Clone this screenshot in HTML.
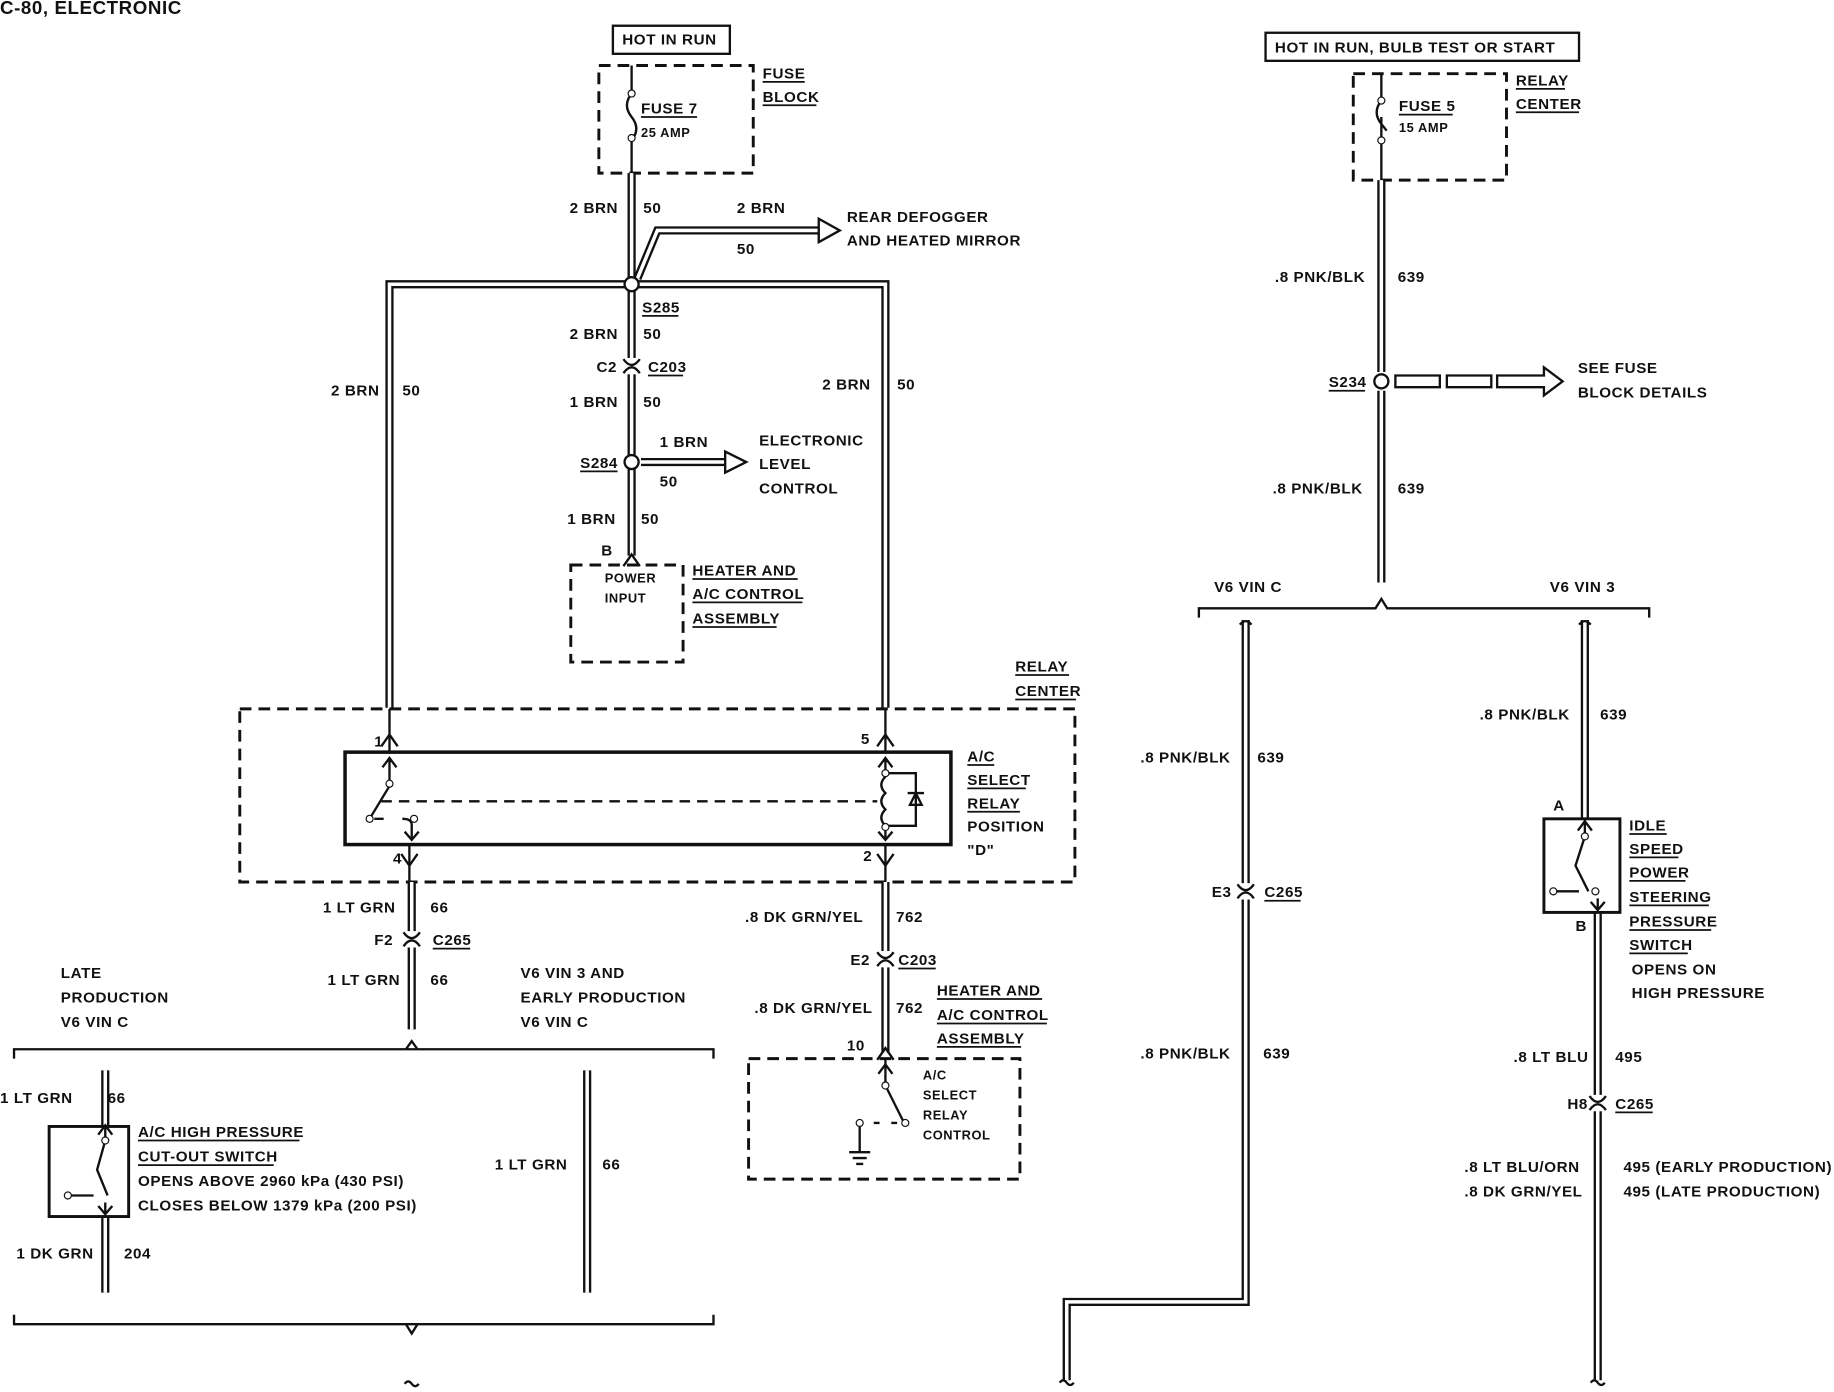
<!DOCTYPE html>
<html><head><meta charset="utf-8"><style>
html,body{margin:0;padding:0;background:#fff;}
svg{display:block;}
text{font-family:"Liberation Sans",sans-serif;font-size:13px;font-weight:bold;fill:#111;letter-spacing:0.5px;}
.w{fill:none;stroke:#111;stroke-width:7;}
.wi{fill:none;stroke:#fff;stroke-width:3;}
.l{fill:none;stroke:#111;stroke-width:2;}
.d{fill:none;stroke:#111;stroke-width:2.5;stroke-dasharray:10 6;}
.u{stroke:#111;stroke-width:1.5;}
</style></head><body>
<svg width="1834" height="1392" viewBox="0 0 1568 1190" preserveAspectRatio="none" xmlns="http://www.w3.org/2000/svg">
<defs>
<g id="cn"><path class="l" d="M-7,6 Q0,-4 7,6 M-7,-6 Q0,4 7,-6"/></g>
</defs>
<text x="0" y="12" style="font-size:16px">C-80, ELECTRONIC</text>
<!-- LEFT TOP -->
<rect x="524" y="22" width="100" height="24" class="l"/>
<text x="532" y="38">HOT IN RUN</text>
<rect x="512" y="56" width="132" height="92" class="d" fill="#f3f3f3"/>
<path class="l" d="M540,56 V80 M540,80 q-8,10 0,20 q8,10 0,20 V148"/>
<circle cx="540" cy="80" r="3" fill="#fff" stroke="#111"/><circle cx="540" cy="118" r="3" fill="#fff" stroke="#111"/>
<text x="548" y="97">FUSE 7</text><line class="u" x1="548" y1="100" x2="596" y2="100"/>
<text x="548" y="117" style="font-size:11px">25 AMP</text>
<text x="652" y="67">FUSE</text><line class="u" x1="652" y1="70" x2="688" y2="70"/>
<text x="652" y="87">BLOCK</text><line class="u" x1="652" y1="90" x2="698" y2="90"/>

<g>
<path class="w" d="M540,148 V238 M333,605 V243 H757 V605 M540,248 V475"/>
<path class="w" d="M545,238 L562,197 H712"/>
<path class="wi" d="M540,148 V238 M333,605 V243 H757 V605 M540,248 V475"/>
<path class="wi" d="M545,238 L562,197 H712"/>
</g>
<path d="M700,187 L718,197 L700,207 Z" fill="#fff" stroke="#111" stroke-width="2"/>
<circle cx="540" cy="243" r="6" fill="#fff" stroke="#111" stroke-width="2"/>
<text x="487" y="182">2 BRN</text><text x="550" y="182">50</text>
<text x="630" y="182">2 BRN</text><text x="630" y="217">50</text>
<text x="724" y="190">REAR DEFOGGER</text><text x="724" y="210">AND HEATED MIRROR</text>
<text x="283" y="338">2 BRN</text><text x="344" y="338">50</text>
<text x="703" y="333">2 BRN</text><text x="767" y="333">50</text>
<text x="549" y="267">S285</text><line class="u" x1="549" y1="270" x2="580" y2="270"/>
<text x="487" y="290">2 BRN</text><text x="550" y="290">50</text>
<rect x="532" y="306" width="16" height="14" fill="#fff"/><use href="#cn" x="540" y="313"/>
<text x="510" y="318">C2</text><text x="554" y="318">C203</text><line class="u" x1="554" y1="321" x2="584" y2="321"/>
<text x="487" y="348">1 BRN</text><text x="550" y="348">50</text>
<path class="w" d="M548,395 H628"/><path class="wi" d="M548,395 H628"/>
<path d="M620,386 L638,395 L620,404 Z" fill="#fff" stroke="#111" stroke-width="2"/>
<circle cx="540" cy="395" r="6" fill="#fff" stroke="#111" stroke-width="2"/>
<text x="496" y="400">S284</text><line class="u" x1="496" y1="403" x2="528" y2="403"/>
<text x="564" y="382">1 BRN</text><text x="564" y="416">50</text>
<text x="649" y="381">ELECTRONIC</text><text x="649" y="401">LEVEL</text><text x="649" y="422">CONTROL</text>
<text x="485" y="448">1 BRN</text><text x="548" y="448">50</text>
<text x="514" y="475">B</text>
<path class="l" d="M533,484 L540,474 L547,484"/>
<rect x="488" y="483" width="96" height="83" class="d"/>
<text x="517" y="498" style="font-size:11px">POWER</text><text x="517" y="515" style="font-size:11px">INPUT</text>
<text x="592" y="492">HEATER AND</text><line class="u" x1="592" y1="495" x2="682" y2="495"/>
<text x="592" y="512">A/C CONTROL</text><line class="u" x1="592" y1="515" x2="686" y2="515"/>
<text x="592" y="533">ASSEMBLY</text><line class="u" x1="592" y1="536" x2="664" y2="536"/>

<!-- Relay center -->
<rect x="205" y="606" width="714" height="148" class="d"/>
<text x="868" y="574">RELAY</text><line class="u" x1="868" y1="577" x2="914" y2="577"/>
<text x="868" y="595">CENTER</text><line class="u" x1="868" y1="598" x2="920" y2="598"/>
<rect x="295" y="643" width="518" height="79" fill="none" stroke="#111" stroke-width="3"/>
<path class="l" d="M333,606 V643 M326,638 L333,628 L340,638 M757,606 V643 M750,638 L757,628 L764,638"/>
<text x="320" y="638">1</text><text x="736" y="636">5</text>
<path class="l" d="M350,722 V760 M343,730 L350,740 L357,730 M757,722 V760 M750,730 L757,740 L764,730"/>
<text x="336" y="738">4</text><text x="738" y="736">2</text>
<path class="l" d="M333,648 V668 M327,656 L333,648 L339,656 M333,672 L316,700 M320,700 l8,0 M344,700 Q352,700 352,705 M352,705 V718 M346,711 L352,718 L358,711"/>
<circle cx="333" cy="670" r="3" fill="#fff" stroke="#111"/><circle cx="316" cy="700" r="3" fill="#fff" stroke="#111"/><circle cx="354" cy="700" r="3" fill="#fff" stroke="#111"/>
<path d="M326,685 H750" class="l" stroke-dasharray="9 6"/>
<path class="l" d="M757,648 V660 M751,656 L757,648 L763,656 M757,664 q-7,7 0,14 q-7,7 0,14 q-7,7 0,14 M757,710 V718 M751,711 L757,718 L763,711 M760,661 H783 V706 H760 M778,688 l5,-10 l5,10 z M776,678 h14"/>
<circle cx="757" cy="661" r="3" fill="#fff" stroke="#111"/><circle cx="757" cy="707" r="3" fill="#fff" stroke="#111"/>
<text x="827" y="651">A/C</text><line class="u" x1="827" y1="654" x2="850" y2="654"/>
<text x="827" y="671">SELECT</text><line class="u" x1="827" y1="674" x2="877" y2="674"/>
<text x="827" y="691">RELAY</text><line class="u" x1="827" y1="694" x2="872" y2="694"/>
<text x="827" y="711">POSITION</text><text x="827" y="731">"D"</text>

<!-- below relay -->
<path class="w" d="M352,754 V880 M757,754 V900"/><path class="wi" d="M352,754 V880 M757,754 V900"/>
<rect x="343" y="796" width="18" height="14" fill="#fff"/><use href="#cn" x="352" y="803"/>
<rect x="748" y="813" width="18" height="14" fill="#fff"/><use href="#cn" x="757" y="820"/>
<text x="276" y="780">1 LT GRN</text><text x="368" y="780">66</text>
<text x="320" y="808">F2</text><text x="370" y="808">C265</text><line class="u" x1="370" y1="811" x2="402" y2="811"/>
<text x="280" y="842">1 LT GRN</text><text x="368" y="842">66</text>
<text x="637" y="788">.8 DK GRN/YEL</text><text x="766" y="788">762</text>
<text x="727" y="825">E2</text><text x="768" y="825">C203</text><line class="u" x1="768" y1="828" x2="800" y2="828"/>
<text x="645" y="866">.8 DK GRN/YEL</text><text x="766" y="866">762</text>
<text x="801" y="851">HEATER AND</text><line class="u" x1="801" y1="854" x2="891" y2="854"/>
<text x="801" y="872">A/C CONTROL</text><line class="u" x1="801" y1="875" x2="895" y2="875"/>
<text x="801" y="892">ASSEMBLY</text><line class="u" x1="801" y1="895" x2="873" y2="895"/>
<text x="724" y="898">10</text>
<path class="l" d="M750,906 L757,896 L764,906"/>
<rect x="640" y="905" width="232" height="103" class="d"/>
<path class="l" d="M757,906 V925 M751,918 L757,910 L763,918 M757,928 L772,958 M767,960 h-5 M752,960 h-5 M735,960 V985 M726,985 h18 M729,990 h12 M732,995 h6"/>
<circle cx="757" cy="928" r="3" fill="#fff" stroke="#111"/><circle cx="774" cy="960" r="3" fill="#fff" stroke="#111"/><circle cx="735" cy="960" r="3" fill="#fff" stroke="#111"/>
<text x="789" y="923" style="font-size:11px">A/C</text><text x="789" y="940" style="font-size:11px">SELECT</text><text x="789" y="957" style="font-size:11px">RELAY</text><text x="789" y="974" style="font-size:11px">CONTROL</text>

<text x="52" y="836">LATE</text><text x="52" y="857">PRODUCTION</text><text x="52" y="878">V6 VIN C</text>
<text x="445" y="836">V6 VIN 3 AND</text><text x="445" y="857">EARLY PRODUCTION</text><text x="445" y="878">V6 VIN C</text>
<path class="l" d="M12,905 V897 H610 V905 M347,897 L352,890 L357,897 M12,1124 V1132 H610 V1124 M347,1132 L352,1140 L357,1132 M346,1183 q3,-4 6,0 q3,4 6,0"/>
<path class="w" d="M90,915 V963 M90,1040 V1105 M502,915 V1105"/><path class="wi" d="M90,915 V963 M90,1040 V1105 M502,915 V1105"/>
<rect x="42" y="963" width="68" height="77" fill="none" stroke="#111" stroke-width="2.5"/>
<path class="l" d="M90,963 V972 M84,970 L90,962 L96,970 M90,975 L83,1000 L92,1022 M60,1022 h20 M90,1028 V1038 M84,1031 L90,1038 L96,1031"/>
<circle cx="90" cy="975" r="3" fill="#fff" stroke="#111"/><circle cx="58" cy="1022" r="3" fill="#fff" stroke="#111"/>
<text x="0" y="943">1 LT GRN</text><text x="92" y="943">66</text>
<text x="118" y="972">A/C HIGH PRESSURE</text><line class="u" x1="118" y1="975" x2="256" y2="975"/>
<text x="118" y="993">CUT-OUT SWITCH</text><line class="u" x1="118" y1="996" x2="234" y2="996"/>
<text x="118" y="1014">OPENS ABOVE 2960 kPa (430 PSI)</text>
<text x="118" y="1035">CLOSES BELOW 1379 kPa (200 PSI)</text>
<text x="14" y="1076">1 DK GRN</text><text x="106" y="1076">204</text>
<text x="423" y="1000">1 LT GRN</text><text x="515" y="1000">66</text>

<!-- RIGHT -->
<rect x="1082" y="28" width="268" height="24" class="l"/>
<text x="1090" y="45">HOT IN RUN, BULB TEST OR START</text>
<rect x="1157" y="63" width="131" height="91" class="d"/>
<path class="l" d="M1181,63 V86 q-8,10 0,20 q8,10 0,0 M1181,100 V154"/>
<circle cx="1181" cy="86" r="3" fill="#fff" stroke="#111"/><circle cx="1181" cy="120" r="3" fill="#fff" stroke="#111"/>
<text x="1196" y="95">FUSE 5</text><line class="u" x1="1196" y1="98" x2="1242" y2="98"/>
<text x="1196" y="113" style="font-size:11px">15 AMP</text>
<text x="1296" y="73">RELAY</text><line class="u" x1="1296" y1="76" x2="1338" y2="76"/>
<text x="1296" y="93">CENTER</text><line class="u" x1="1296" y1="96" x2="1350" y2="96"/>
<path class="w" d="M1181,154 V318 M1181,334 V498 M1065,530 V1113 H912 V1180 M1355,530 V700 M1366,780 V1180"/>
<path class="wi" d="M1181,154 V318 M1181,334 V498 M1065,530 V1113 H912 V1180 M1355,530 V700 M1366,780 V1180"/>
<circle cx="1181" cy="326" r="6" fill="#fff" stroke="#111" stroke-width="2"/>
<path d="M1193,321 h38 v10 h-38 z M1237,321 h38 v10 h-38 z M1280,321 h40 v-7 l16,12 l-16,12 v-7 h-40 z" fill="#fff" stroke="#111" stroke-width="2"/>
<text x="1090" y="241">.8 PNK/BLK</text><text x="1195" y="241">639</text>
<text x="1136" y="331">S234</text><line class="u" x1="1136" y1="334" x2="1167" y2="334"/>
<text x="1349" y="319">SEE FUSE</text><text x="1349" y="340">BLOCK DETAILS</text>
<text x="1088" y="422">.8 PNK/BLK</text><text x="1195" y="422">639</text>
<path class="l" d="M1025,528 V520 H1176 L1181,512 L1186,520 H1410 V528"/>
<text x="1038" y="506">V6 VIN C</text><text x="1325" y="506">V6 VIN 3</text>
<text x="975" y="652">.8 PNK/BLK</text><text x="1075" y="652">639</text>
<rect x="1056" y="755" width="18" height="14" fill="#fff"/><use href="#cn" x="1065" y="762"/>
<text x="1036" y="767">E3</text><text x="1081" y="767">C265</text><line class="u" x1="1081" y1="770" x2="1112" y2="770"/>
<text x="975" y="905">.8 PNK/BLK</text><text x="1080" y="905">639</text>
<text x="1265" y="615">.8 PNK/BLK</text><text x="1368" y="615">639</text>
<text x="1328" y="693">A</text>
<rect x="1320" y="700" width="65" height="80" fill="none" stroke="#111" stroke-width="2.5"/>
<path class="l" d="M1355,700 V712 M1349,710 L1355,702 L1361,710 M1355,715 L1347,740 L1358,762 M1330,762 h20 M1366,768 V778 M1360,771 L1366,778 L1372,771"/>
<circle cx="1355" cy="715" r="3" fill="#fff" stroke="#111"/><circle cx="1328" cy="762" r="3" fill="#fff" stroke="#111"/><circle cx="1364" cy="762" r="3" fill="#fff" stroke="#111"/>
<text x="1393" y="710">IDLE</text><line class="u" x1="1393" y1="713" x2="1425" y2="713"/>
<text x="1393" y="730">SPEED</text><line class="u" x1="1393" y1="733" x2="1435" y2="733"/>
<text x="1393" y="750">POWER</text><line class="u" x1="1393" y1="753" x2="1441" y2="753"/>
<text x="1393" y="771">STEERING</text><line class="u" x1="1393" y1="774" x2="1461" y2="774"/>
<text x="1393" y="792">PRESSURE</text><line class="u" x1="1393" y1="795" x2="1463" y2="795"/>
<text x="1393" y="812">SWITCH</text><line class="u" x1="1393" y1="815" x2="1443" y2="815"/>
<text x="1395" y="833">OPENS ON</text><text x="1395" y="853">HIGH PRESSURE</text>
<text x="1347" y="796">B</text>
<text x="1294" y="908">.8 LT BLU</text><text x="1381" y="908">495</text>
<rect x="1357" y="936" width="18" height="14" fill="#fff"/><use href="#cn" x="1366" y="943"/>
<text x="1340" y="948">H8</text><text x="1381" y="948">C265</text><line class="u" x1="1381" y1="951" x2="1413" y2="951"/>
<text x="1252" y="1002">.8 LT BLU/ORN</text><text x="1252" y="1023">.8 DK GRN/YEL</text>
<text x="1388" y="1002">495 (EARLY PRODUCTION)</text><text x="1388" y="1023">495 (LATE PRODUCTION)</text>
<path class="l" d="M1060,534 q5,-6 10,0 M1350,534 q5,-6 10,0 M906,1182 q3,-4 6,0 q3,4 6,0 M1360,1182 q3,-4 6,0 q3,4 6,0"/>
</svg>
</body></html>
